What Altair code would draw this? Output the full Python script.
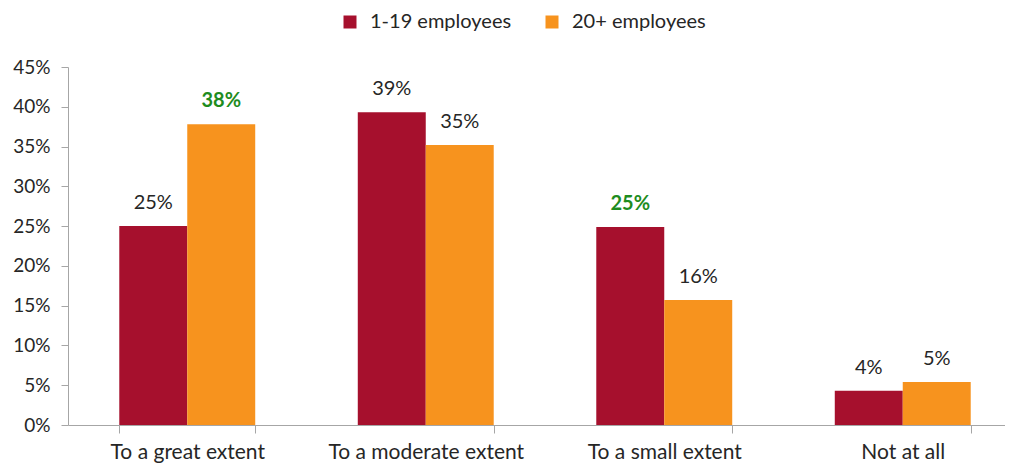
import altair as alt
import pandas as pd

categories = ["To a great extent", "To a moderate extent", "To a small extent", "Not at all"]
series = ["1-19 employees", "20+ employees"]
small_vals = [0.250, 0.393, 0.249, 0.043]
large_vals = [0.378, 0.352, 0.157, 0.054]
small_hl = [False, False, True, False]
large_hl = [True, False, False, False]

rows = []
for i, c in enumerate(categories):
    rows.append({"cat": c, "series": series[0], "value": small_vals[i], "hl": small_hl[i]})
    rows.append({"cat": c, "series": series[1], "value": large_vals[i], "hl": large_hl[i]})
df = pd.DataFrame(rows)

FONT = "Lato"

x = alt.X("cat:N", sort=categories, title=None,
          scale=alt.Scale(range=[0, 954], paddingInner=0.43, paddingOuter=0.215),
          axis=alt.Axis(labelAngle=0, labelFontSize=21, labelColor="#262626",
                        labelFont=FONT, tickBand="extent", tickSize=8, labelLimit=400,
                        labelOverlap=False,
                        tickColor="#a6a6a6", domainColor="#a6a6a6", labelPadding=8))
xo = alt.XOffset("series:N", sort=series, scale=alt.Scale(paddingInner=0, paddingOuter=0))
y = alt.Y("value:Q", title=None,
          scale=alt.Scale(domain=[0, 0.45], nice=False),
          axis=alt.Axis(format=".0%", values=[i * 0.05 for i in range(10)],
                        labelFontSize=19, labelColor="#262626", labelFont=FONT,
                        tickSize=7, labelPadding=11, tickColor="#a6a6a6",
                        domainColor="#a6a6a6", grid=False))

base = alt.Chart(df)

bars = base.mark_bar().encode(
    x=x, xOffset=xo, y=y,
    color=alt.Color("series:N", sort=series,
                    scale=alt.Scale(domain=series, range=["#A6102D", "#F7931E"]),
                    legend=alt.Legend(title=None, orient="none", legendX=272, legendY=-55,
                                      direction="horizontal", symbolType="square",
                                      symbolSize=169, labelFontSize=20, labelFont=FONT,
                                      labelColor="#262626", columnPadding=30,
                                      labelOffset=10, symbolStrokeWidth=0)),
)

text_plain = base.transform_filter("!datum.hl").mark_text(
    baseline="bottom", dy=-13, fontSize=20, font=FONT, color="#262626"
).encode(x=x, xOffset=xo, y=y, text=alt.Text("value:Q", format=".0%"))

text_hl = base.transform_filter("datum.hl").mark_text(
    baseline="bottom", dy=-13, fontSize=20, font=FONT, color="#1E8C1E", fontWeight="bold"
).encode(x=x, xOffset=xo, y=y, text=alt.Text("value:Q", format=".0%"))

chart = alt.layer(bars, text_plain, text_hl).properties(
    width=937, height=358,
    autosize=alt.AutoSizeParams(type="none"),
    padding={"left": 60, "top": 59, "right": 0, "bottom": 40},
).configure_view(stroke=None)

chart.save("out.html", embed_options={"renderer": "svg", "actions": False})
